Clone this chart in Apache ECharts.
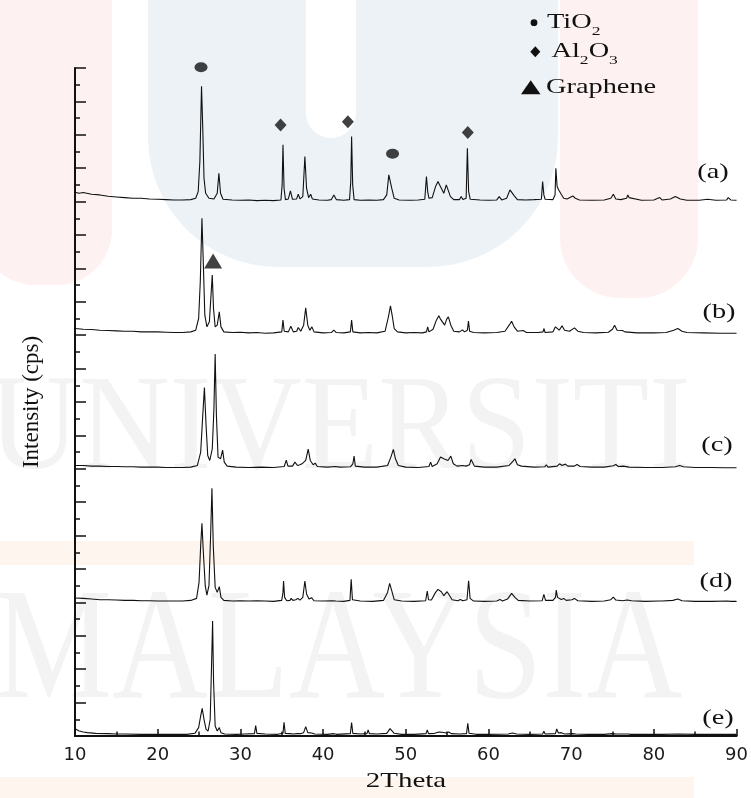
<!DOCTYPE html>
<html>
<head>
<meta charset="utf-8">
<script src="https://cdn.jsdelivr.net/npm/echarts/dist/echarts.min.js"></script>
<style>html,body{margin:0;padding:0;background:#fff}#chart{width:751px;height:798px}</style>
</head>
<body>
<div id="chart"></div>
<script>
// XRD patterns, values (2θ, stacked intensity in plot units)
const traceA = [[10,16.28],[10.5,16.25],[11,16.27],[12,16.22],[13,16.2],[14,16.16],[15,16.14],[16,16.12],[17,16.1],[18,16.1],[19,16.08],[20,16.07],[21,16.06],[22,16.05],[23,16.05],[24,16.06],[24.6,16.1],[24.9,16.3],[25.1,17.2],[25.3,19.45],[25.45,18.2],[25.6,16.7],[25.8,16.25],[26.2,16.1],[26.8,16.08],[27.2,16.25],[27.4,16.85],[27.6,16.25],[27.9,16.07],[29,16.05],[30,16.04],[31,16.05],[32,16.03],[33,16.04],[34,16.03],[34.9,16.05],[35.05,16.5],[35.15,17.7],[35.28,16.4],[35.45,16.06],[35.8,16.08],[36.05,16.32],[36.3,16.07],[36.8,16.08],[37.0,16.22],[37.2,16.08],[37.55,16.15],[37.8,17.35],[38.0,16.4],[38.25,16.12],[38.5,16.22],[38.7,16.08],[39.5,16.05],[40.5,16.04],[41.0,16.06],[41.3,16.2],[41.6,16.06],[42.5,16.04],[43.2,16.06],[43.35,16.6],[43.45,17.95],[43.58,16.5],[43.75,16.06],[44.5,16.04],[45.5,16.05],[46.5,16.04],[47.3,16.06],[47.7,16.2],[47.95,16.8],[48.1,16.85],[48.3,16.4],[48.6,16.1],[49.2,16.05],[50.5,16.04],[51.5,16.05],[52.3,16.07],[52.5,16.75],[52.65,16.3],[52.8,16.1],[53.2,16.12],[53.6,16.45],[53.9,16.6],[54.1,16.5],[54.3,16.55],[54.6,16.25],[54.9,16.5],[55.1,16.52],[55.4,16.15],[55.8,16.06],[56.5,16.06],[56.7,16.15],[56.9,16.06],[57.3,16.1],[57.45,17.6],[57.6,16.3],[57.8,16.07],[59,16.05],[60,16.04],[61,16.05],[61.3,16.15],[61.6,16.05],[62.2,16.1],[62.6,16.35],[62.8,16.4],[63.1,16.18],[63.5,16.06],[64.5,16.05],[65.5,16.06],[66.4,16.07],[66.55,16.6],[66.7,16.2],[66.85,16.07],[67.8,16.06],[68.05,16.2],[68.15,17.0],[68.3,16.45],[68.5,16.35],[68.8,16.22],[69.1,16.1],[69.5,16.08],[70.2,16.17],[70.5,16.1],[71,16.05],[72.5,16.04],[74,16.05],[74.8,16.1],[75.1,16.22],[75.4,16.08],[76,16.06],[76.7,16.1],[76.85,16.2],[77.0,16.12],[77.2,16.08],[78.5,16.04],[80,16.05],[80.7,16.12],[81,16.05],[82,16.08],[82.6,16.15],[83.2,16.08],[84,16.04],[85.5,16.04],[86.5,16.07],[87.5,16.04],[88.8,16.05],[89.0,16.12],[89.3,16.05],[90,16.04]];

const traceB = [[10,12.2],[11,12.18],[12,12.17],[13,12.15],[14,12.14],[15,12.13],[16,12.12],[17,12.12],[18,12.1],[19,12.1],[20,12.1],[21,12.09],[22,12.08],[23,12.08],[24,12.1],[24.6,12.15],[24.95,12.5],[25.15,13.6],[25.35,15.5],[25.5,14.3],[25.7,12.6],[25.95,12.25],[26.25,12.4],[26.45,13.2],[26.6,13.8],[26.75,12.8],[26.95,12.25],[27.2,12.3],[27.45,12.7],[27.65,12.25],[28,12.1],[29,12.08],[30,12.09],[31,12.07],[32,12.08],[33,12.06],[34,12.07],[35.0,12.1],[35.15,12.45],[35.3,12.12],[35.8,12.1],[36.1,12.27],[36.4,12.1],[36.8,12.12],[37.0,12.23],[37.3,12.12],[37.65,12.3],[37.9,12.82],[38.15,12.3],[38.4,12.15],[38.65,12.25],[38.9,12.1],[40,12.07],[41.0,12.08],[41.3,12.15],[41.6,12.08],[42.5,12.07],[43.3,12.1],[43.45,12.45],[43.6,12.1],[44.5,12.07],[45.5,12.08],[46.5,12.07],[47.5,12.12],[47.9,12.55],[48.15,12.88],[48.35,12.6],[48.6,12.2],[49,12.1],[50,12.07],[51,12.08],[52,12.07],[52.5,12.1],[52.65,12.25],[52.8,12.1],[53.3,12.18],[53.7,12.45],[54.0,12.58],[54.2,12.48],[54.4,12.5],[54.7,12.3],[54.95,12.48],[55.15,12.55],[55.45,12.3],[55.8,12.12],[56.5,12.1],[56.85,12.16],[57.1,12.1],[57.45,12.15],[57.58,12.42],[57.72,12.12],[58.2,12.08],[59.5,12.07],[61,12.08],[62,12.12],[62.5,12.3],[62.8,12.42],[63.1,12.25],[63.5,12.12],[64.2,12.14],[64.6,12.08],[66,12.08],[66.6,12.1],[66.7,12.2],[66.85,12.08],[67.8,12.1],[68.1,12.25],[68.3,12.28],[68.55,12.15],[68.9,12.28],[69.2,12.15],[69.8,12.12],[70.4,12.22],[70.8,12.12],[71.5,12.08],[73,12.07],[74.5,12.09],[75.0,12.18],[75.25,12.3],[75.55,12.15],[76.2,12.14],[76.5,12.1],[78,12.07],[80,12.07],[81.5,12.08],[82.4,12.15],[82.9,12.2],[83.4,12.12],[84,12.08],[86,12.07],[88,12.06],[90,12.06]];

const traceC = [[10,8.1],[11,8.1],[12,8.08],[13,8.08],[14,8.07],[15,8.07],[16,8.06],[17,8.06],[18,8.05],[19,8.05],[20,8.05],[21,8.04],[22,8.04],[23,8.04],[24,8.05],[24.8,8.1],[25.2,8.5],[25.45,9.6],[25.65,10.43],[25.85,9.3],[26.05,8.4],[26.3,8.25],[26.6,8.6],[26.8,9.8],[26.95,11.44],[27.1,9.6],[27.3,8.35],[27.6,8.3],[27.85,8.56],[28.05,8.2],[28.4,8.08],[29.5,8.05],[31,8.04],[32.5,8.05],[34,8.04],[35.3,8.07],[35.55,8.26],[35.75,8.08],[36.3,8.08],[36.6,8.2],[36.9,8.1],[37.2,8.12],[37.45,8.15],[37.9,8.25],[38.2,8.59],[38.45,8.25],[38.8,8.12],[39.05,8.17],[39.3,8.07],[40.5,8.05],[41.5,8.07],[41.7,8.12],[42,8.05],[43.3,8.06],[43.6,8.15],[43.75,8.38],[43.9,8.08],[45,8.05],[46.5,8.05],[47.8,8.1],[48.2,8.35],[48.5,8.58],[48.75,8.3],[49.1,8.1],[50,8.05],[51.5,8.04],[52.8,8.07],[53.0,8.2],[53.2,8.07],[53.8,8.15],[54.2,8.35],[54.35,8.38],[54.6,8.3],[54.8,8.33],[55.1,8.25],[55.45,8.38],[55.75,8.15],[56.2,8.08],[56.9,8.1],[57.05,8.14],[57.3,8.08],[57.7,8.12],[57.9,8.28],[58.1,8.18],[58.3,8.08],[59.5,8.05],[61,8.05],[62.5,8.1],[62.95,8.22],[63.2,8.3],[63.5,8.12],[64,8.08],[65.5,8.05],[66.8,8.06],[67.0,8.12],[67.2,8.05],[68.3,8.08],[68.6,8.15],[68.9,8.1],[69.3,8.14],[69.6,8.08],[70.4,8.08],[70.7,8.13],[71.1,8.07],[72.5,8.05],[74,8.05],[75.1,8.09],[75.4,8.13],[75.7,8.07],[76.3,8.08],[77,8.05],[79,8.04],[81,8.04],[82.6,8.06],[83.1,8.1],[83.6,8.06],[85,8.04],[87,8.04],[88.5,8.03],[90,8.03]];

const traceD = [[10,4.13],[11,4.12],[12,4.1],[13,4.08],[14,4.08],[15,4.07],[16,4.06],[17,4.06],[18,4.05],[19,4.05],[20,4.04],[21,4.04],[22,4.04],[23,4.04],[24,4.06],[24.7,4.12],[25.0,4.6],[25.2,5.7],[25.35,6.37],[25.5,5.6],[25.75,4.5],[25.95,4.22],[26.2,4.5],[26.4,6.0],[26.56,7.42],[26.72,5.7],[26.95,4.45],[27.2,4.3],[27.45,4.47],[27.65,4.15],[28,4.06],[29,4.04],[30,4.05],[31,4.04],[32,4.05],[33,4.04],[34,4.03],[35.0,4.06],[35.15,4.3],[35.22,4.64],[35.35,4.15],[35.6,4.05],[36.0,4.06],[36.15,4.12],[36.35,4.06],[36.7,4.08],[36.95,4.12],[37.2,4.07],[37.55,4.15],[37.8,4.64],[38.0,4.25],[38.3,4.1],[38.6,4.14],[38.9,4.05],[40,4.04],[41.1,4.05],[41.3,4.1],[41.55,4.04],[42.5,4.03],[43.25,4.06],[43.4,4.69],[43.55,4.08],[44.5,4.04],[46,4.03],[47.3,4.06],[47.8,4.3],[48.05,4.57],[48.3,4.35],[48.6,4.08],[49.5,4.04],[51,4.03],[52.4,4.05],[52.6,4.34],[52.75,4.08],[53.1,4.07],[53.6,4.3],[53.9,4.39],[54.1,4.35],[54.3,4.32],[54.6,4.2],[55.0,4.32],[55.25,4.22],[55.6,4.08],[56.3,4.05],[56.6,4.09],[56.9,4.05],[57.4,4.08],[57.6,4.65],[57.78,4.12],[58.2,4.04],[59.5,4.03],[61,4.04],[61.4,4.09],[61.7,4.04],[62.3,4.1],[62.8,4.27],[63.2,4.15],[63.6,4.06],[65,4.04],[66.5,4.05],[66.7,4.24],[66.9,4.06],[67.8,4.06],[68.1,4.15],[68.2,4.37],[68.35,4.15],[68.5,4.2],[68.8,4.09],[69.1,4.12],[69.4,4.06],[70.1,4.08],[70.4,4.12],[70.8,4.05],[72.5,4.03],[74,4.04],[74.8,4.08],[75.1,4.16],[75.4,4.07],[76.2,4.05],[76.8,4.07],[77.0,4.1],[77.3,4.05],[79,4.03],[80.6,4.04],[80.8,4.07],[81,4.04],[82.3,4.06],[82.9,4.1],[83.4,4.05],[85,4.03],[87,4.03],[88.9,4.04],[89.1,4.08],[89.3,4.03],[90,4.03]];

const traceE = [[10,0.22],[10.5,0.15],[11,0.12],[11.5,0.1],[12.5,0.08],[14,0.07],[15,0.06],[16,0.06],[18,0.05],[20,0.05],[22,0.05],[23.5,0.05],[24.5,0.08],[24.95,0.25],[25.2,0.6],[25.38,0.83],[25.6,0.5],[25.85,0.2],[26.1,0.15],[26.35,0.5],[26.52,2.2],[26.64,3.44],[26.76,1.6],[26.95,0.3],[27.2,0.15],[27.45,0.25],[27.65,0.1],[28.1,0.06],[29.5,0.05],[30.5,0.06],[31.7,0.07],[31.85,0.31],[32.0,0.08],[33,0.06],[34.5,0.05],[35.15,0.08],[35.28,0.41],[35.42,0.08],[36.0,0.07],[36.15,0.11],[36.35,0.06],[36.9,0.07],[37.05,0.1],[37.25,0.07],[37.65,0.1],[37.9,0.28],[38.15,0.1],[38.6,0.09],[39,0.06],[40.5,0.05],[41.3,0.07],[41.6,0.05],[43.3,0.07],[43.45,0.4],[43.6,0.08],[44.5,0.06],[45.3,0.07],[45.45,0.18],[45.6,0.07],[46.5,0.06],[47.7,0.08],[48.1,0.22],[48.3,0.2],[48.6,0.08],[49.5,0.05],[51,0.05],[52.45,0.07],[52.6,0.18],[52.75,0.07],[53.5,0.08],[54.0,0.12],[54.4,0.11],[54.9,0.09],[55.2,0.12],[55.5,0.07],[56.5,0.06],[57.35,0.07],[57.5,0.38],[57.65,0.08],[58.5,0.05],[60,0.05],[62.4,0.06],[62.9,0.09],[63.4,0.06],[65,0.05],[66.55,0.06],[66.7,0.14],[66.85,0.06],[68.1,0.07],[68.25,0.21],[68.45,0.09],[68.8,0.1],[69.2,0.06],[70.2,0.07],[70.35,0.11],[70.55,0.06],[72,0.05],[74,0.05],[75.0,0.07],[75.2,0.1],[75.45,0.06],[76.9,0.06],[77.05,0.09],[77.2,0.05],[79,0.05],[81,0.05],[83,0.06],[85,0.05],[87,0.05],[90,0.05]];

// phase markers placed above the peaks
const tio2Marks = [[25.24, 20.02], [48.4, 17.43]];
const al2o3Marks = [[34.86, 18.29], [43.0, 18.39], [57.5, 18.07]];
const grapheneMarks = [[26.7, 14.22]];

const sampleNames = ['(a)', '(b)', '(c)', '(d)', '(e)'];
const traces = [traceA, traceB, traceC, traceD, traceE];
const legendNames = ['TiO2', 'Al2O3', 'Graphene'];
const axisTitles = ['2Theta', 'Intensity (cps)'];

const SERIF = '"Liberation Serif", "Times New Roman", serif';
const INK = '#111111';
const SX = 1.35; // the reference text is horizontally stretched

const chart = echarts.init(document.getElementById('chart'), null, {renderer: 'canvas'});

const lineSeries = traces.map((d, i) => ({
  name: sampleNames[i],
  type: 'line',
  data: d,
  showSymbol: false,
  symbol: 'none',
  smooth: false,
  lineStyle: {color: INK, width: 1.1},
  z: 3
}));

function markerSeries(name, data, symbol, size) {
  return {
    name: name, type: 'scatter', data: data, symbol: symbol, symbolSize: size,
    itemStyle: {color: INK}, clip: false, z: 4
  };
}

// label positions (pixels) for sample tags
const tagPos = [[713, 172], [719, 312], [717, 445], [716, 581], [718, 718]];

const graphics = [
  // faint watermark background
  {type: 'rect', z: -10, silent: true, shape: {x: -20, y: -20, width: 132, height: 305, r: [0, 0, 55, 55]}, style: {fill: '#fdf1f1'}},
  {type: 'rect', z: -10, silent: true, shape: {x: 148, y: -20, width: 410, height: 287, r: [0, 0, 130, 130]}, style: {fill: '#edf2f7'}},
  {type: 'rect', z: -9, silent: true, shape: {x: 306, y: -20, width: 50, height: 158, r: [0, 0, 25, 25]}, style: {fill: '#ffffff'}},
  {type: 'rect', z: -10, silent: true, shape: {x: 560, y: -20, width: 138, height: 318, r: [0, 0, 60, 60]}, style: {fill: '#fdf1f1'}},
  {type: 'rect', z: -10, silent: true, shape: {x: 0, y: 541, width: 694, height: 24}, style: {fill: '#fdf5ee'}},
  {type: 'rect', z: -10, silent: true, shape: {x: 0, y: 777, width: 694, height: 21}, style: {fill: '#fdf5ee'}},
  {type: 'text', z: -8, silent: true, x: -11, y: 432, scaleX: 0.92,
    style: {text: 'UNIVERSITI', fontSize: 136, fontFamily: SERIF, fill: '#f3f3f3', align: 'left', verticalAlign: 'middle'}},
  {type: 'text', z: -8, silent: true, x: -6, y: 655, scaleX: 0.84,
    style: {text: 'MALAYSIA', fontSize: 158, fontFamily: SERIF, fill: '#f3f3f3', align: 'left', verticalAlign: 'middle'}},
  // legend symbols
  {type: 'circle', z: 50, shape: {cx: 534, cy: 22.7, r: 3.4}, style: {fill: INK}},
  {type: 'polygon', z: 50, shape: {points: [[535.3, 46.2], [540.3, 51.7], [535.3, 57.2], [530.3, 51.7]]}, style: {fill: INK}},
  {type: 'polygon', z: 50, shape: {points: [[521, 94.3], [540.5, 94.3], [530.7, 80.3]]}, style: {fill: INK}},
  // legend text
  {type: 'text', z: 50, x: 547, y: 22.7, scaleX: SX, style: {
    text: '{m|TiO}{s|2}', align: 'left', verticalAlign: 'middle',
    rich: {m: {fontSize: 21, fontFamily: SERIF, fill: INK, lineHeight: 30, verticalAlign: 'middle'},
           s: {fontSize: 13, fontFamily: SERIF, fill: INK, lineHeight: 13, verticalAlign: 'bottom'}}}},
  {type: 'text', z: 50, x: 551.5, y: 51.7, scaleX: SX, style: {
    text: '{m|Al}{s|2}{m|O}{s|3}', align: 'left', verticalAlign: 'middle',
    rich: {m: {fontSize: 21, fontFamily: SERIF, fill: INK, lineHeight: 30, verticalAlign: 'middle'},
           s: {fontSize: 13, fontFamily: SERIF, fill: INK, lineHeight: 13, verticalAlign: 'bottom'}}}},
  {type: 'text', z: 50, x: 546, y: 87.3, scaleX: SX, style: {
    text: legendNames[2], fontSize: 21, fontFamily: SERIF, fill: INK, align: 'left', verticalAlign: 'middle'}},
  // x axis title
  {type: 'text', z: 50, x: 406, y: 781, scaleX: 1.38, style: {
    text: axisTitles[0], fontSize: 21, fontFamily: SERIF, fill: INK, align: 'center', verticalAlign: 'middle'}}
].concat(sampleNames.map((t, i) => ({
  type: 'text', z: 50, x: tagPos[i][0], y: tagPos[i][1], scaleX: SX,
  style: {text: t, fontSize: 21, fontFamily: SERIF, fill: INK, align: 'center', verticalAlign: 'middle'}
})));

const option = {
  animation: false,
  backgroundColor: '#ffffff',
  grid: {left: 75, right: 14, top: 68, bottom: 62, containLabel: false},
  xAxis: {
    type: 'value', min: 10, max: 90, interval: 10,
    axisLine: {show: true, onZero: false, lineStyle: {color: INK, width: 2}},
    axisTick: {show: true, inside: true, length: 7, lineStyle: {color: INK, width: 1.5}},
    minorTick: {show: true, splitNumber: 2, length: 4.5, lineStyle: {color: INK, width: 1.5}},
    axisLabel: {show: true, margin: 10, fontFamily: '"DejaVu Sans", sans-serif', fontSize: 18, color: '#1a1a1a'},
    splitLine: {show: false}, minorSplitLine: {show: false}
  },
  yAxis: {
    type: 'value', min: 0, max: 20, interval: 1,
    name: axisTitles[1], nameLocation: 'middle', nameGap: 32,
    nameTextStyle: {fontFamily: SERIF, fontSize: 23, color: INK},
    axisLine: {show: true, onZero: false, lineStyle: {color: INK, width: 2}},
    axisTick: {show: true, inside: true, length: 11, lineStyle: {color: INK, width: 1.5}},
    minorTick: {show: true, splitNumber: 2, length: 5, lineStyle: {color: INK, width: 1.5}},
    axisLabel: {show: false},
    splitLine: {show: false}, minorSplitLine: {show: false}
  },
  series: lineSeries.concat([
    markerSeries(legendNames[0], tio2Marks, 'circle', [13, 10]),
    markerSeries(legendNames[1], al2o3Marks, 'diamond', [12, 13]),
    markerSeries(legendNames[2], grapheneMarks, 'triangle', [18, 15])
  ]),
  graphic: graphics
};

chart.setOption(option);
</script>
</body>
</html>
